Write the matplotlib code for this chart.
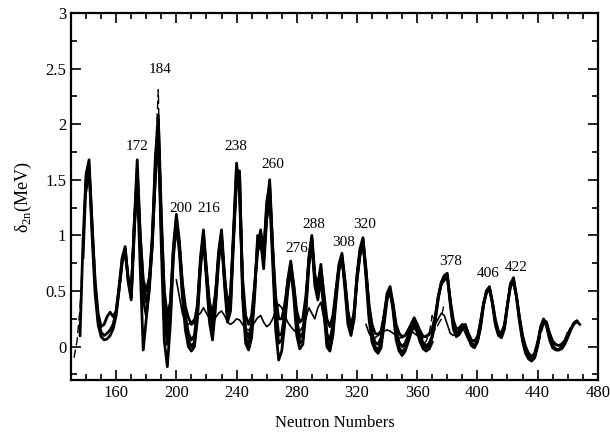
import numpy as np
import matplotlib
matplotlib.use("Agg")
import matplotlib.pyplot as plt
from matplotlib.ticker import MultipleLocator

plt.rcParams['font.family'] = ['Liberation Serif', 'DejaVu Serif']
plt.rcParams['mathtext.fontset'] = 'custom'
plt.rcParams['mathtext.rm'] = 'Liberation Serif'

# ---- data: two-neutron shell gaps for several isotopic chains ----
n_a_start = 140
d2n_a = [1.40, 1.60, 1.10, 0.60, 0.30, 0.18, 0.20, 0.27, 0.31, 0.27,
         0.32, 0.52, 0.75, 0.85, 0.62, 0.50, 1.05, 1.55, 1.00, 0.60,
         0.50, 0.62, 0.95, 1.50, 1.95, 1.10, 0.50, 0.28, 0.40, 0.85,
         1.10, 0.90, 0.58, 0.36, 0.26, 0.20, 0.22, 0.38, 0.75, 0.95,
         0.68, 0.40, 0.30, 0.48, 0.80, 0.95, 0.62, 0.38, 0.48, 1.00,
         1.55, 1.42, 0.62, 0.28, 0.20, 0.28, 0.55, 0.85, 0.95, 0.80,
         1.15, 1.40, 0.88, 0.45, 0.25, 0.25, 0.38, 0.58, 0.72, 0.55,
         0.32, 0.22, 0.25, 0.45, 0.75, 0.92, 0.62, 0.55, 0.70, 0.48,
         0.25, 0.18, 0.28, 0.50, 0.70, 0.80, 0.58, 0.32, 0.18, 0.30,
         0.60, 0.82, 0.92, 0.68, 0.38, 0.20, 0.12, 0.11, 0.14, 0.28,
         0.44, 0.50, 0.38, 0.20, 0.12, 0.09, 0.10, 0.15, 0.20, 0.24,
         0.20, 0.14, 0.09, 0.09, 0.11, 0.16, 0.28, 0.45, 0.56, 0.60,
         0.62, 0.42, 0.24, 0.16, 0.17, 0.20, 0.19, 0.12, 0.06, 0.05,
         0.08, 0.20, 0.38, 0.48, 0.52, 0.40, 0.24, 0.14, 0.12, 0.20,
         0.38, 0.54, 0.58, 0.45, 0.26, 0.10, 0.00, -0.06, -0.09, -0.06,
         0.04, 0.16, 0.22, 0.20, 0.12, 0.05, 0.02, 0.01, 0.02, 0.05,
         0.10, 0.16, 0.21, 0.22]

n_b_start = 136
d2n_b = [0.10, 0.95, 1.55, 1.68, 1.10, 0.55, 0.25, 0.13, 0.10, 0.12,
         0.15, 0.20, 0.32, 0.55, 0.80, 0.90, 0.60, 0.45, 1.10, 1.68,
         1.00, 0.55, 0.40, 0.55, 1.00, 1.60, 2.08, 1.20, 0.45, 0.15,
         0.35, 0.90, 1.19, 0.95, 0.55, 0.28, 0.12, 0.06, 0.10, 0.35,
         0.80, 1.05, 0.70, 0.35, 0.20, 0.45, 0.85, 1.05, 0.65, 0.35,
         0.45, 1.05, 1.65, 1.35, 0.55, 0.15, 0.08, 0.20, 0.55, 0.90,
         1.05, 0.85, 1.25, 1.50, 0.90, 0.35, 0.10, 0.12, 0.30, 0.60,
         0.77, 0.55, 0.25, 0.08, 0.12, 0.40, 0.80, 1.00, 0.65, 0.55,
         0.74, 0.45, 0.12, 0.05, 0.20, 0.50, 0.74, 0.84, 0.60, 0.30,
         0.15, 0.30, 0.65, 0.88, 0.98, 0.70, 0.35, 0.12, 0.04, 0.02,
         0.08, 0.28, 0.48, 0.54, 0.38, 0.15, 0.04, 0.00, 0.03, 0.10,
         0.20, 0.26, 0.20, 0.10, 0.03, 0.01, 0.03, 0.10, 0.25, 0.45,
         0.58, 0.64, 0.66, 0.40, 0.20, 0.12, 0.13, 0.18, 0.20, 0.10,
         0.03, 0.01, 0.05, 0.18, 0.38, 0.50, 0.54, 0.40, 0.22, 0.12,
         0.10, 0.18, 0.38, 0.56, 0.62, 0.45, 0.25, 0.08, -0.03, -0.09,
         -0.12, -0.10, 0.00, 0.15, 0.24, 0.22, 0.10, 0.01, -0.02, -0.03,
         -0.02, 0.02, 0.08, 0.15, 0.20, 0.23, 0.20]

n_c_start = 138
d2n_c = [0.80, 1.50, 1.62, 1.00, 0.48, 0.20, 0.09, 0.06, 0.07, 0.10,
         0.16, 0.28, 0.52, 0.78, 0.88, 0.58, 0.42, 1.00, 1.60, 0.90,
         0.42, 0.28, 0.50, 0.95, 1.70, 2.05, 1.05, 0.30, 0.02, 0.28,
         0.85, 1.15, 0.92, 0.50, 0.22, 0.06, 0.00, 0.04, 0.30, 0.75,
         1.02, 0.65, 0.28, 0.12, 0.40, 0.80, 1.02, 0.60, 0.28, 0.38,
         1.00, 1.60, 1.55, 0.50, 0.08, 0.02, 0.14, 0.50, 0.95, 1.00,
         0.80, 1.30, 1.45, 0.85, 0.28, 0.03, 0.06, 0.25, 0.55, 0.74,
         0.50, 0.18, 0.03, 0.06, 0.35, 0.78, 0.98, 0.60, 0.48, 0.68,
         0.40, 0.06, -0.02, 0.14, 0.45, 0.72, 0.82, 0.56, 0.25, 0.12,
         0.26, 0.62, 0.86, 0.96, 0.66, 0.30, 0.08, 0.00, -0.03, 0.03,
         0.24, 0.46, 0.52, 0.35, 0.10, -0.01, -0.05, -0.01, 0.07, 0.16,
         0.22, 0.17, 0.07, 0.01, -0.01, 0.01, 0.08, 0.23, 0.43, 0.57,
         0.63, 0.64, 0.38, 0.16, 0.09, 0.11, 0.16, 0.18, 0.08, 0.01,
         -0.01, 0.04, 0.16, 0.36, 0.50, 0.53, 0.38, 0.19, 0.10, 0.08,
         0.16, 0.37, 0.57, 0.60, 0.44, 0.22, 0.05, -0.06, -0.11, -0.13,
         -0.10, 0.02, 0.18, 0.25, 0.18, 0.06, -0.01, -0.03, -0.03, 0.00,
         0.05, 0.12]

n_d_start = 170
d2n_d = [0.45, 1.10, 1.50, 0.70, -0.03, 0.25, 0.55, 0.90, 1.55, 1.90,
         0.90, 0.05, -0.18, 0.20, 0.80, 1.10, 0.85, 0.45, 0.15, 0.00,
         -0.04, 0.00, 0.25, 0.70, 0.98, 0.60, 0.22, 0.06, 0.35, 0.75,
         0.98, 0.55, 0.22, 0.32, 0.95, 1.50, 1.58, 0.45, 0.03, -0.03,
         0.08, 0.45, 1.00, 0.95, 0.70, 1.15, 1.35, 0.75, 0.15, -0.12,
         -0.04, 0.20, 0.50, 0.70, 0.45, 0.10, -0.02, 0.02, 0.30, 0.72,
         0.95, 0.55, 0.42, 0.62, 0.32, 0.00, -0.04, 0.10, 0.40, 0.68,
         0.80, 0.52, 0.20, 0.10, 0.24, 0.60, 0.84, 0.94, 0.62, 0.25,
         0.04, -0.03, -0.06, -0.01, 0.20, 0.42, 0.50, 0.32, 0.06, -0.04,
         -0.08, -0.04, 0.04, 0.13, 0.18, 0.13, 0.04, -0.02, -0.04, -0.02,
         0.04]

n_f_start = 200
d2n_f = [0.60, 0.45, 0.30, 0.22, 0.20, 0.22, 0.25, 0.28, 0.30, 0.35,
         0.30, 0.25, 0.22, 0.26, 0.30, 0.32, 0.28, 0.22, 0.20, 0.22,
         0.25, 0.24, 0.20, 0.16, 0.15, 0.17, 0.22, 0.26, 0.28, 0.22,
         0.18, 0.20, 0.25, 0.32, 0.38, 0.35, 0.28, 0.22, 0.18, 0.15,
         0.12, 0.14, 0.18, 0.25, 0.35, 0.30, 0.25, 0.35, 0.40, 0.25,
         0.10]

n_g_start = 326
d2n_g = [0.20, 0.12, 0.08, 0.08, 0.10, 0.12, 0.14, 0.15, 0.14, 0.12,
         0.10, 0.08, 0.08, 0.10, 0.12, 0.14, 0.12, 0.10, 0.08, 0.08,
         0.10, 0.12, 0.15, 0.20, 0.25, 0.30, 0.28, 0.20, 0.12, 0.10,
         0.12, 0.16, 0.18, 0.12, 0.06, 0.04, 0.05, 0.10, 0.25, 0.40]

# dashed fragments
n_e1 = [132, 134, 136, 138]
d2n_e1 = [-0.10, 0.05, 0.35, 0.90]
n_e2 = [184, 186, 188, 190, 192]
d2n_e2 = [0.90, 1.70, 2.31, 0.90, 0.10]
n_e3 = [258, 260, 262, 264, 266]
d2n_e3 = [0.70, 1.20, 1.52, 0.70, 0.20]
n_e4 = [364, 366, 368, 370, 372, 374, 376, 378]
d2n_e4 = [0.02, 0.05, 0.12, 0.28, 0.15, 0.20, 0.25, 0.40]
n_e5 = [438, 440, 442, 444, 446, 448, 450, 452, 454, 456, 458, 460, 462, 464, 466, 468]
d2n_e5 = [-0.08, 0.00, 0.10, 0.20, 0.18, 0.05, 0.02, 0.02, 0.01, 0.03,
          0.06, 0.12, 0.18, 0.22, 0.24, 0.22]

peak_labels = ['172', '184', '200', '216', '238', '260', '276', '288',
               '308', '320', '378', '406', '422']
label_x = [174, 189, 203, 221.5, 239.5, 264, 280, 291, 311, 325, 382.5, 407, 426]
label_y = [1.80, 2.49, 1.24, 1.24, 1.80, 1.64, 0.88, 1.10, 0.94, 1.10, 0.77, 0.66, 0.71]


def chain(start, vals):
    return np.arange(start, start + 2 * len(vals), 2), vals


# ---- plot ----
fig = plt.figure(figsize=(6.10, 4.41), dpi=100)
ax = fig.add_axes([0.1164, 0.1383, 0.8636, 0.8322])

for start, vals in [(n_a_start, d2n_a), (n_b_start, d2n_b),
                    (n_c_start, d2n_c), (n_d_start, d2n_d)]:
    n, v = chain(start, vals)
    ax.plot(n, v, color='black', lw=2.0)
for start, vals in [(n_f_start, d2n_f), (n_g_start, d2n_g)]:
    n, v = chain(start, vals)
    ax.plot(n, v, color='black', lw=1.2)

dashed = [(n_e1, d2n_e1), (n_e2, d2n_e2), (n_e4, d2n_e4), (n_e5, d2n_e5)]
for n, v in dashed:
    ax.plot(n, v, color='black', lw=1.0, dashes=(6, 3))
ax.plot(n_e3, d2n_e3, color='black', lw=1.0, dashes=(1, 3))

for t, x, y in zip(peak_labels, label_x, label_y):
    ax.text(x, y, t, ha='center', va='center', fontsize=11)

ax.set_xlim(130, 480)
ax.set_ylim(-0.3, 3)
ax.xaxis.set_minor_locator(MultipleLocator(10))
ax.yaxis.set_minor_locator(MultipleLocator(0.25))
ax.set_xticks([160, 200, 240, 280, 320, 360, 400, 440, 480])
ax.set_yticks([0, 0.5, 1, 1.5, 2, 2.5, 3])
ax.set_yticklabels(['0', '0.5', '1', '1.5', '2', '2.5', '3'])
ax.tick_params(which='both', direction='in', top=True, right=True, labelsize=12, width=1.2)
ax.tick_params(which='major', length=7)
ax.tick_params(which='minor', length=4)
for s in ax.spines.values():
    s.set_linewidth(1.6)

ax.set_xlabel('Neutron Numbers', fontsize=12, labelpad=10)
ax.set_ylabel(r'δ$_{\mathrm{2n}}$(MeV)', fontsize=13, labelpad=8)

fig.savefig('out.png', dpi=100)
